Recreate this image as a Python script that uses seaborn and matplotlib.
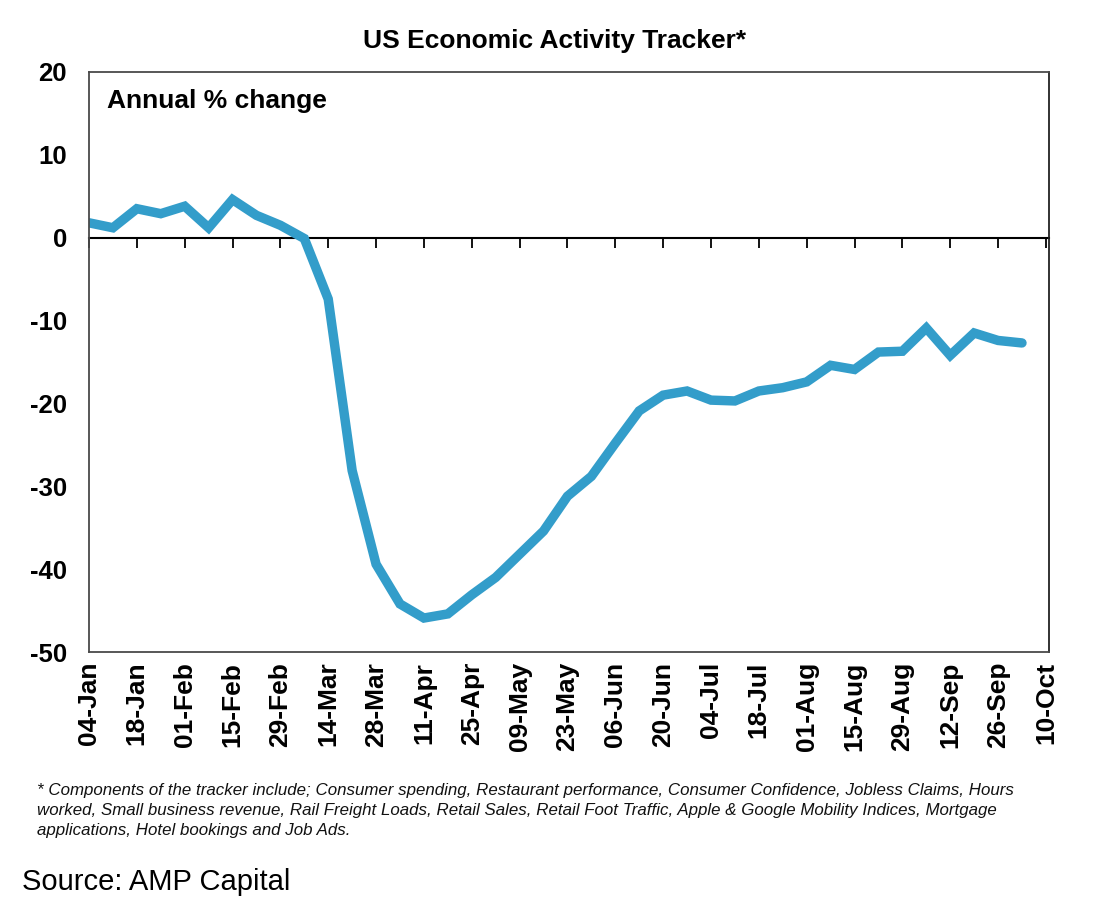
import numpy as np
import pandas as pd
import matplotlib
matplotlib.use("Agg")
import matplotlib.pyplot as plt
import matplotlib.dates as mdates
import seaborn as sns

# ---- data ----
start_date = "2020-01-04"
n_weeks = 40
values = [1.8, 1.2, 3.5, 2.9, 3.8, 1.2, 4.6, 2.7, 1.5, -0.1,
          -7.4, -28.1, -39.4, -44.2, -45.9, -45.4, -43.1, -41.0, -38.2, -35.4,
          -31.2, -28.8, -24.8, -20.9, -19.0, -18.5, -19.6, -19.7, -18.5, -18.1,
          -17.4, -15.4, -15.9, -13.8, -13.7, -10.9, -14.2, -11.5, -12.4, -12.7]
tick_start = "2020-01-04"
tick_end = "2020-10-10"
y_ticks = [20, 10, 0, -10, -20, -30, -40, -50]

title = "US Economic Activity Tracker*"
subtitle = "Annual % change"
footnote = ("* Components of the tracker include; Consumer spending, Restaurant performance, Consumer Confidence, Jobless Claims, Hours\n"
            "worked, Small business revenue, Rail Freight Loads, Retail Sales, Retail Foot Traffic, Apple & Google Mobility Indices, Mortgage\n"
            "applications, Hotel bookings and Job Ads.")
source = "Source: AMP Capital"

dates = pd.date_range(start_date, periods=n_weeks, freq="7D")
df = pd.DataFrame({"date": dates, "value": values})
tick_dates = pd.date_range(tick_start, tick_end, freq="14D")

sns.set_theme(style="white")
plt.rcParams["font.family"] = ["Liberation Sans", "DejaVu Sans"]
plt.rcParams["text.color"] = "black"

fig = plt.figure(figsize=(10.96, 9.16), dpi=100)
ax = fig.add_axes([0.0812, 0.2882, 0.8759, 0.6332])

sns.lineplot(data=df, x="date", y="value", ax=ax, color="#339DCA",
             linewidth=6.8, solid_capstyle="round", solid_joinstyle="miter")

ax.set_ylim(-50, 20)
ax.set_xlim(mdates.date2num(dates[0]), mdates.date2num(tick_dates[-1]) + 0.9)
ax.set_yticks(y_ticks)
ax.set_yticklabels([str(v) for v in y_ticks], fontsize=18.5, fontweight="bold", color="black")
ax.tick_params(axis="y", length=0, pad=16)

ax.set_xticks(mdates.date2num(tick_dates))
ax.set_xticklabels([d.strftime("%d-%b") for d in tick_dates], rotation=90,
                   fontsize=19, fontweight="bold", color="black")
ax.tick_params(axis="x", length=0, pad=7)
ax.set_xlabel("")
ax.set_ylabel("")

for s in ax.spines.values():
    s.set_visible(True)
    s.set_color("#4a4a4a")
    s.set_linewidth(1.3)
ax.spines["right"].set_color("#222222")

# zero line with tick marks
sec = ax.secondary_xaxis(0, transform=ax.transData)
sec.set_xticks(mdates.date2num(tick_dates))
sec.set_xticklabels([])
sec.tick_params(axis="x", direction="out", length=7, width=1.3, color="black")
sec.spines["bottom"].set_color("black")
sec.spines["bottom"].set_linewidth(1.5)

ax.text(0.019, 0.950, subtitle, transform=ax.transAxes, fontsize=19,
        fontweight="bold", va="center", ha="left", color="black")

fig.text(0.506, 0.955, title, fontsize=19, fontweight="bold", ha="center", va="center",
         color="black")
fig.text(0.034, 0.145, footnote, fontsize=12.2, style="italic", ha="left", va="top",
         linespacing=1.42, color="#111111")
fig.text(0.020, 0.037, source, fontsize=21, ha="left", va="center", color="black")

fig.savefig("out.png", dpi=100)
